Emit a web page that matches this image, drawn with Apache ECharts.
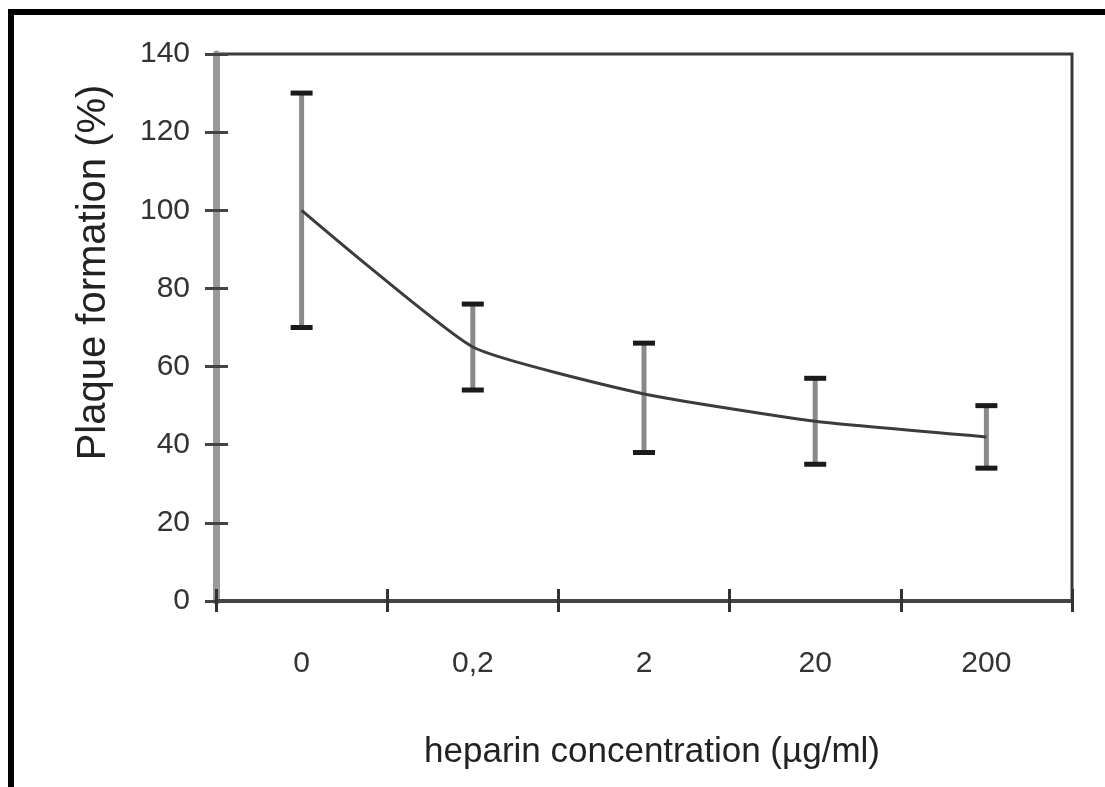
<!DOCTYPE html>
<html>
<head>
<meta charset="utf-8">
<script src="https://cdn.jsdelivr.net/npm/echarts@6/dist/echarts.min.js"></script>
<style>
  html, body { margin: 0; padding: 0; background: #fff; }
  #frame { position: absolute; left: 8px; top: 9px; width: 1097px; height: 778px;
           border-top: 6px solid #000; border-left: 6px solid #000; box-sizing: border-box; }
  #chart { position: absolute; left: 0; top: 0; width: 1105px; height: 787px; }
</style>
</head>
<body>
<div id="frame"></div>
<div id="chart"></div>
<script>
// heparin dose -> plaque formation
var categories = ['0', '0,2', '2', '20', '200'];
var meanValues = [100, 65, 53, 46, 42];
var upperValues = [130, 76, 66, 57, 50];
var lowerValues = [70, 54, 38, 35, 34];
var yTicks = [0, 20, 40, 60, 80, 100, 120, 140];

var myChart = echarts.init(document.getElementById('chart'));

var errorData = [];
for (var i = 0; i < categories.length; i++) {
  errorData.push([i, lowerValues[i], upperValues[i]]);
}

var fontFamily = '"Liberation Sans", Arial, sans-serif';

option = {
  animation: false,
  grid: {
    left: 216, right: 33, top: 54, bottom: 186,
    show: true,
    borderColor: '#3a3a3a',
    borderWidth: 3
  },
  xAxis: [{
    type: 'category',
    data: categories,
    position: 'bottom',
    name: 'heparin concentration (µg/ml)',
    nameLocation: 'middle',
    nameGap: 134,
    nameTextStyle: { fontSize: 35, color: '#222', fontFamily: fontFamily, padding: [0, 0, 0, 16] },
    axisLine: { lineStyle: { color: '#444', width: 4 } },
    axisTick: { show: true, length: 11, lineStyle: { color: '#333', width: 3 } },
    axisLabel: { fontSize: 30, color: '#333', fontFamily: fontFamily, margin: 48 }
  }, {
    type: 'category',
    data: categories,
    position: 'bottom',
    axisLine: { show: false },
    axisTick: { show: true, inside: true, length: 12, lineStyle: { color: '#333', width: 3 } },
    axisLabel: { show: false }
  }],
  yAxis: [{
    type: 'value',
    min: 0, max: 140, interval: 20,
    name: 'Plaque formation (%)',
    nameLocation: 'middle',
    nameGap: 102,
    nameTextStyle: { fontSize: 40, color: '#222', fontFamily: fontFamily, padding: [0, 0, 0, 110] },
    axisLine: { show: true, lineStyle: { color: '#999', width: 7 } },
    axisTick: { show: true, length: 11, lineStyle: { color: '#444', width: 3 } },
    axisLabel: {
      fontSize: 30, color: '#333', fontFamily: fontFamily, margin: 26,
      formatter: function (v) { return yTicks.indexOf(v) >= 0 ? String(v) : ''; }
    },
    splitLine: { show: false }
  }, {
    type: 'value',
    min: 0, max: 140, interval: 20,
    position: 'left',
    axisLine: { show: false },
    axisTick: { show: true, inside: true, length: 12, lineStyle: { color: '#444', width: 3 } },
    axisLabel: { show: false },
    splitLine: { show: false }
  }],
  series: [{
    type: 'custom',
    name: 'error',
    xAxisIndex: 0,
    yAxisIndex: 0,
    renderItem: function (params, api) {
      var x = api.value(0);
      var lo = api.coord([x, api.value(1)]);
      var hi = api.coord([x, api.value(2)]);
      var half = 11;
      return {
        type: 'group',
        children: [{
          type: 'line',
          shape: { x1: hi[0], y1: hi[1], x2: lo[0], y2: lo[1] },
          style: { stroke: '#8a8a8a', lineWidth: 5 }
        }, {
          type: 'line',
          shape: { x1: hi[0] - half, y1: hi[1], x2: hi[0] + half, y2: hi[1] },
          style: { stroke: '#1a1a1a', lineWidth: 5 }
        }, {
          type: 'line',
          shape: { x1: lo[0] - half, y1: lo[1], x2: lo[0] + half, y2: lo[1] },
          style: { stroke: '#1a1a1a', lineWidth: 5 }
        }]
      };
    },
    encode: { x: 0, y: [1, 2] },
    data: errorData,
    z: 2
  }, {
    type: 'line',
    name: 'mean',
    data: meanValues,
    smooth: 0.15,
    symbol: 'none',
    lineStyle: { color: '#3c3c3c', width: 3 },
    z: 3
  }]
};
myChart.setOption(option, true);
</script>
</body>
</html>
